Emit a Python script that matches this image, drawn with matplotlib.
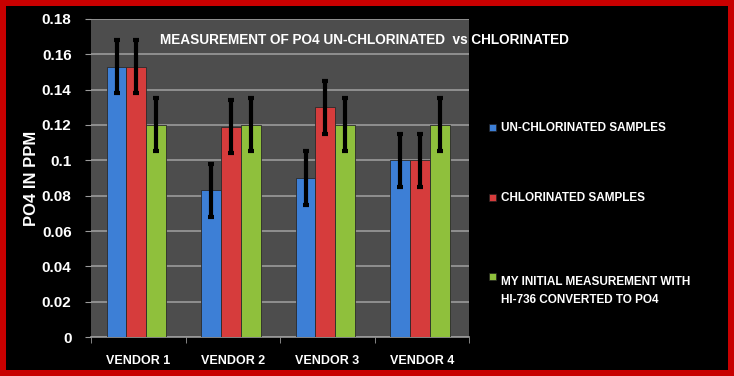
import numpy as np
import matplotlib.pyplot as plt
from matplotlib.patches import Rectangle

vendors = ['VENDOR 1', 'VENDOR 2', 'VENDOR 3', 'VENDOR 4']
unchlorinated = [0.153, 0.083, 0.090, 0.100]
chlorinated = [0.153, 0.119, 0.130, 0.100]
initial = [0.120, 0.120, 0.120, 0.120]
err_unchl = [0.015, 0.015, 0.015, 0.015]
err_chl = [0.015, 0.015, 0.015, 0.015]
err_init = [0.015, 0.015, 0.015, 0.015]
series_names = ['UN-CHLORINATED SAMPLES', 'CHLORINATED SAMPLES',
                'MY INITIAL MEASUREMENT WITH\nHI-736 CONVERTED TO PO4']
yticks = [0, 0.02, 0.04, 0.06, 0.08, 0.1, 0.12, 0.14, 0.16, 0.18]
ytick_labels = ['0', '0.02', '0.04', '0.06', '0.08', '0.1', '0.12', '0.14', '0.16', '0.18']

plt.rcParams['font.family'] = ['Liberation Sans', 'DejaVu Sans']
plt.rcParams['font.weight'] = 'bold'
plt.rcParams['axes.labelweight'] = 'bold'

colors = ['#3d7fd6', '#d63c3c', '#8fc03c']

# red frame: red figure background with a black panel on top
fig = plt.figure(figsize=(7.34, 3.76), dpi=100, facecolor='#c80000')
fig.add_artist(Rectangle((0.008, 0.016), 0.984, 0.968, transform=fig.transFigure,
                         facecolor='black', edgecolor='none', zorder=0))

ax = fig.add_axes([0.124, 0.1037, 0.515, 0.8458])
ax.set_facecolor('#4d4d4d')

x = np.arange(len(vendors))
w = 0.21
data = [unchlorinated, chlorinated, initial]
errs = [err_unchl, err_chl, err_init]
for i in range(3):
    pos = x + (i - 1) * w - 0.02
    ax.bar(pos, data[i], w, color=colors[i], edgecolor='#2a2a2a', linewidth=0.6, zorder=3,
           label=series_names[i])
    ax.errorbar(pos, data[i], yerr=errs[i], fmt='none', ecolor='black', elinewidth=3,
                capsize=2, capthick=3, zorder=4)

ax.set_xlim(-0.5, 3.5)
ax.set_ylim(0, 0.18)
ax.set_yticks(yticks)
ax.set_yticklabels(ytick_labels)
ax.yaxis.grid(True, color='#9a9a9a', linewidth=1.2, zorder=0)
ax.set_xticks(x)
ax.set_xticklabels(vendors)
ax.set_xticks(np.arange(-0.5, 4, 1), minor=True)
ax.tick_params(axis='x', which='major', length=0, pad=13, colors='white', labelsize=9)
ax.tick_params(axis='x', which='minor', length=4, color='#9a9a9a')
ax.tick_params(axis='y', length=4, color='#9a9a9a', colors='white', labelsize=11, pad=10)
for s in ['top', 'right', 'left']:
    ax.spines[s].set_visible(False)
ax.spines['bottom'].set_color('#9a9a9a')
ax.spines['bottom'].set_linewidth(1.2)

ax.set_ylabel('PO4 IN PPM', color='white', fontsize=12, labelpad=2)

fig.text(0.218, 0.893, 'MEASUREMENT OF PO4 UN-CHLORINATED  vs CHLORINATED',
         color='white', fontsize=9.8, ha='left', va='center')

# legend drawn as text with small square markers
leg_y = [0.66, 0.474, 0.265]
for i in range(3):
    fig.add_artist(Rectangle((0.666, leg_y[i] - 0.009), 0.0095, 0.018,
                             transform=fig.transFigure, facecolor=colors[i],
                             edgecolor='#222222', linewidth=0.5))
    fig.text(0.683, leg_y[i], series_names[i],
             color='white', fontsize=8.5, ha='left', va='center' if i < 2 else 'top',
             linespacing=1.6)

fig.savefig('out.png', dpi=100, facecolor=fig.get_facecolor())
